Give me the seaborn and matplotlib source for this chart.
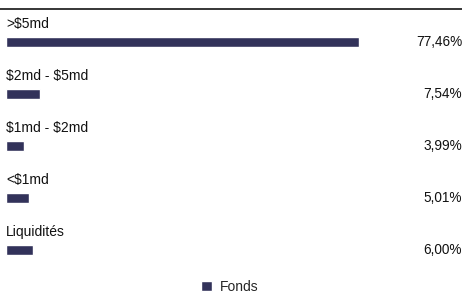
import pandas as pd
import seaborn as sns
import matplotlib.pyplot as plt
from matplotlib.lines import Line2D

categories = ['>$5md', '$2md - $5md', '$1md - $2md', '<$1md', 'Liquidités']
values = [77.46, 7.54, 3.99, 5.01, 6.00]
value_labels = ['77,46%', '7,54%', '3,99%', '5,01%', '6,00%']
series = 'Fonds'

df = pd.DataFrame({'cat': categories, 'val': values, 'serie': series})

sns.set_style('white')
plt.rcParams['font.family'] = ['Liberation Sans', 'DejaVu Sans']

fig = plt.figure(figsize=(4.62, 2.93), dpi=100)
ax = fig.add_axes([6 / 462, 23 / 293, 456 / 462, 261 / 293])

sns.barplot(data=df, x='val', y='cat', hue='serie', palette=['#2b2c61'],
            width=0.2, ax=ax, legend=True)

ax.set_xlim(0, 100.2)
ax.set_ylim(4.385, -0.635)
for s in ax.spines.values():
    s.set_visible(False)
ax.set_xticks([])
ax.set_yticks([])
ax.set_xlabel('')
ax.set_ylabel('')

for i, (c, lab) in enumerate(zip(categories, value_labels)):
    ax.text(0, i - 0.27, c, ha='left', va='baseline', fontsize=10,
            color='#111111', parse_math=False)
    ax.text(100.2, i, lab, ha='right', va='center', fontsize=9.8,
            color='#111111')

handles, labels = ax.get_legend_handles_labels()
ax.get_legend().remove()
fig.legend(handles, labels, loc='lower center', bbox_to_anchor=(0.497, -0.045),
           frameon=False, fontsize=10, handlelength=0.8, handleheight=0.8,
           handletextpad=0.6)

fig.add_artist(Line2D([0, 1], [1 - 9 / 293, 1 - 9 / 293], color='black', lw=1.1))

fig.savefig('out.png', dpi=100)
